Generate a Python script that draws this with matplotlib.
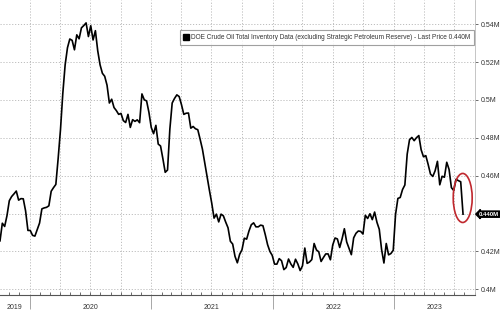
import matplotlib
matplotlib.use('Agg')
import matplotlib.pyplot as plt
import matplotlib.dates as mdates
import matplotlib.transforms as mtransforms
from matplotlib.patches import Ellipse
from matplotlib.lines import Line2D
import numpy as np
import pandas as pd

plt.rcParams['font.family'] = ['Liberation Sans', 'DejaVu Sans']

# weekly DOE commercial crude stocks, million barrels
weeks = pd.date_range('2019-10-04', '2023-07-28', freq='W-FRI')

stocks_2019 = [425.6, 434.9, 433.2, 438.9, 446.8, 449.0, 450.4, 451.9, 447.1,
               447.9, 447.8, 441.4, 431.1]
stocks_2020 = [431.1, 428.5, 428.1, 431.6, 435.0,
               442.5, 443.0, 443.3, 444.1,
               451.8, 453.7, 455.4, 469.2,
               484.4, 503.6, 518.6, 527.6,
               532.2, 531.5, 526.5, 534.4, 532.3,
               538.1, 539.3, 540.7, 533.5,
               539.2, 531.7, 536.6, 526.0, 518.6,
               514.1, 512.5, 507.8, 498.4,
               500.4, 496.0, 494.4, 492.4,
               492.9, 489.1, 488.1, 492.4, 485.5,
               489.6, 488.7, 489.5, 488.0,
               503.2, 500.1, 499.5, 493.5]
stocks_2021 = [485.5, 482.2, 486.6, 476.7, 475.7,
               469.0, 461.8, 463.0, 484.6,
               498.4, 500.8, 502.7, 501.8,
               497.5, 492.4, 493.0, 493.1, 485.1,
               486.0, 484.8, 484.3, 479.3,
               474.0, 466.7, 459.1, 452.3,
               445.5, 437.6, 439.7, 435.6, 439.7,
               438.8, 435.5, 432.5, 425.4,
               423.9, 417.4, 414.0, 418.5,
               420.9, 427.0, 426.5, 430.8, 434.1,
               435.1, 433.0, 433.0, 433.9,
               433.6, 428.9, 423.6, 420.0, 417.9]
stocks_2022 = [413.3, 413.3, 416.2, 415.1,
               410.4, 411.5, 416.0, 413.4,
               411.6, 415.9, 413.4, 409.9,
               412.4, 421.8, 413.7, 414.4, 415.7,
               424.2, 420.8, 419.8, 414.7,
               416.8, 418.7, 418.7, 415.6,
               423.4, 427.1, 426.6, 422.1, 426.6,
               432.0, 425.0, 421.7, 418.3,
               427.2, 429.6, 430.8, 430.6, 429.2,
               439.1, 437.4, 439.9, 436.8,
               440.8, 435.4, 431.7, 421.0,
               413.9, 424.2, 418.2, 418.9, 420.6]
stocks_2023 = [439.6, 448.0, 448.5, 452.7,
               455.1, 471.4, 479.0, 480.2,
               478.5, 480.1, 481.2, 473.7, 470.0,
               470.6, 466.0, 460.9, 459.6,
               462.6, 467.6, 455.2, 459.7,
               459.2, 467.1, 463.3, 453.7, 452.2,
               458.1, 457.4, 456.8, 439.7]

inventory = np.array(stocks_2019 + stocks_2020 + stocks_2021 + stocks_2022 + stocks_2023) / 1000

years = [2019, 2020, 2021, 2022, 2023]
y_ticks = [0.40, 0.42, 0.44, 0.46, 0.48, 0.50, 0.52, 0.54]
x_start, x_end = pd.Timestamp('2019-10-04'), pd.Timestamp('2023-09-02')

fig = plt.figure(figsize=(5, 3.11), dpi=100)
ax = fig.add_axes([0, 16 / 311, 0.95, 295 / 311])

line, = ax.plot(weeks, inventory, color='black', lw=1.2, solid_joinstyle='round')
ax.set_xlim(x_start, x_end)
ax.set_ylim(0.397, 0.5528)

last = inventory[-1]

# grid
ax.set_yticks(y_ticks)
ax.grid(axis='y', color='#bdbdbd', ls=(0, (1.2, 1.8)), lw=0.7)
for q in pd.date_range(x_start, x_end, freq='QS'):
    ax.axvline(q, color='#bdbdbd', ls=(0, (1.2, 1.8)), lw=0.7, zorder=0)

# axes cosmetics
for s in ['top', 'left']:
    ax.spines[s].set_visible(False)
ax.spines['bottom'].set_color('#555555')
ax.spines['bottom'].set_linewidth(0.8)
ax.spines['right'].set_color('#bbbbbb')
ax.spines['right'].set_linewidth(0.6)


def ylab(v, pos):
    # the last-price tag sits over this level
    if abs(v - round(last, 2)) < 1e-6:
        return ''
    return ('%g' % round(v, 2)) + 'M'


ax.yaxis.tick_right()
ax.yaxis.set_major_formatter(plt.FuncFormatter(ylab))
ax.tick_params(axis='y', length=2.5, width=0.6, color='#555555', labelsize=5,
               labelcolor='#333333', pad=1.5)

ax.xaxis.set_major_locator(mdates.YearLocator())
ax.xaxis.set_major_formatter(plt.NullFormatter())
ax.xaxis.set_minor_locator(mdates.MonthLocator())
ax.tick_params(axis='x', which='major', length=10, width=0.6, color='#999999', direction='out')
ax.tick_params(axis='x', which='minor', length=2, width=0.6, color='#555555', direction='in')

# year labels centred in the visible part of each year
trans = mtransforms.blended_transform_factory(ax.transData, ax.transAxes)
for yr in years:
    a = max(pd.Timestamp(f'{yr}-01-01'), x_start)
    b = min(pd.Timestamp(f'{yr + 1}-01-01'), x_end)
    ax.text(a + (b - a) / 2, -0.041, str(yr), transform=trans, ha='center', va='center',
            fontsize=5, color='#333333')

# highlight the last weekly draw
cx = mdates.date2num(weeks[-1]) - 1
cy = (inventory[-1] + inventory[-2]) / 2
ax.add_patch(Ellipse((cx, cy), 57, 0.0259, fill=False, ec='#c0282e', lw=1.2, zorder=5))

# last price tag
ytrans = mtransforms.blended_transform_factory(ax.transAxes, ax.transData)
ax.text(1.0084, last, f'{last:.3f}M', transform=ytrans, ha='left', va='center',
        fontsize=4.3, color='white', fontweight='bold',
        bbox=dict(boxstyle='larrow,pad=0.1', fc='black', ec='black'))

# legend
label = ('DOE Crude Oil Total Inventory Data (excluding Strategic Petroleum Reserve)'
         f' - Last Price {last:.3f}M')
proxy = Line2D([], [], marker='s', color='black', ls='none', markersize=4)
leg = ax.legend([proxy], [label], loc='upper right', bbox_to_anchor=(474 / 475, 1 - 30 / 295),
                fontsize=4.7, frameon=True, fancybox=False, edgecolor='#888888',
                borderpad=0.6, handletextpad=0.3, handlelength=0.8, borderaxespad=0)
leg.get_frame().set_linewidth(0.8)
for t in leg.get_texts():
    t.set_color('#333333')

fig.savefig('out.png', dpi=100)
